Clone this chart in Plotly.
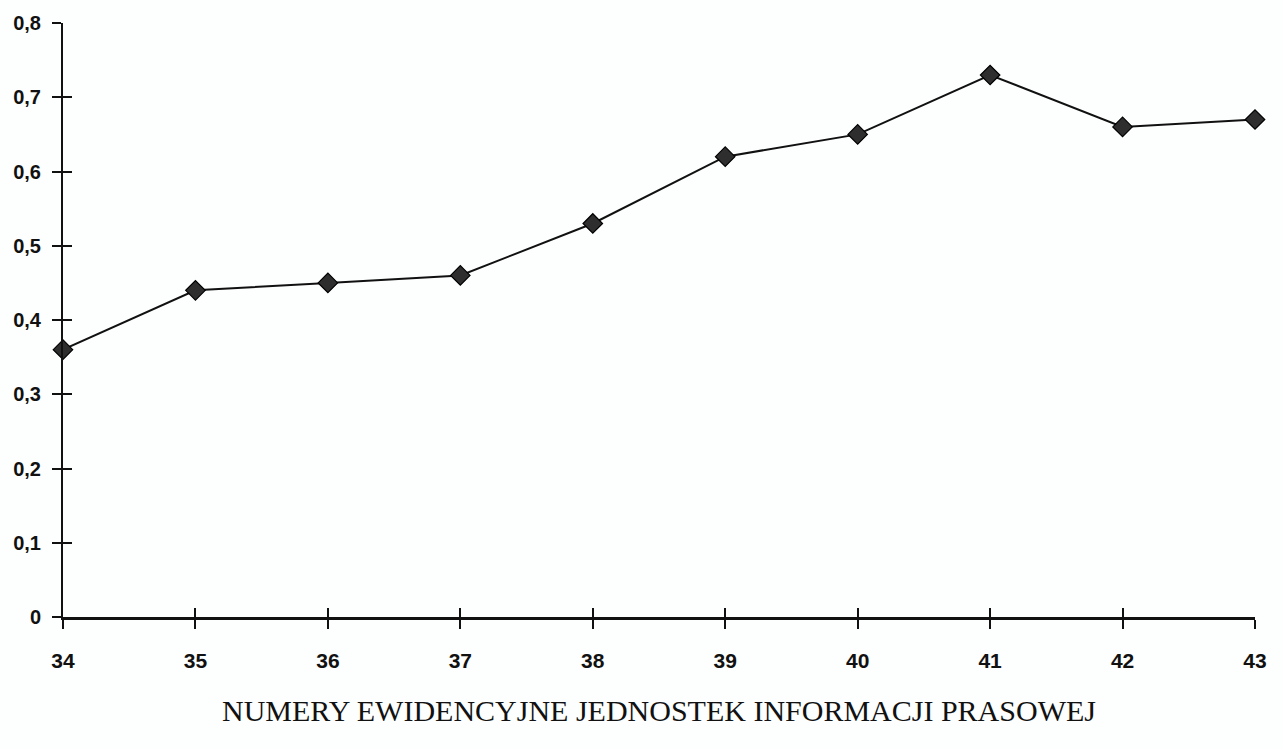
import plotly.graph_objects as go

# Evidence numbers of press information units and their indicator values
unit_numbers = [34, 35, 36, 37, 38, 39, 40, 41, 42, 43]
indicator = [0.36, 0.44, 0.45, 0.46, 0.53, 0.62, 0.65, 0.73, 0.66, 0.67]

y_tick_vals = [0, 0.1, 0.2, 0.3, 0.4, 0.5, 0.6, 0.7, 0.8]
y_tick_text = ["0", "0,1", "0,2", "0,3", "0,4", "0,5", "0,6", "0,7", "0,8"]
x_tick_text = [str(n) for n in unit_numbers]

axis_title = "NUMERY EWIDENCYJNE JEDNOSTEK INFORMACJI PRASOWEJ"

fig = go.Figure()
fig.add_trace(go.Scatter(
    x=unit_numbers, y=indicator, mode="lines+markers",
    line=dict(color="#111111", width=2),
    marker=dict(symbol="diamond", size=15, color="#2e2e2e",
                line=dict(color="#000000", width=1.2)),
    cliponaxis=False, showlegend=False,
))
# invisible trace on the mirror axes so their inside ticks are drawn
fig.add_trace(go.Scatter(x=unit_numbers, y=indicator, xaxis="x2", yaxis="y2",
                         mode="none", showlegend=False, hoverinfo="skip"))

sans = "Liberation Sans, Arial"
ink = "#111111"

fig.update_layout(
    width=1283, height=749,
    margin=dict(l=63, r=28, t=20, b=132),
    paper_bgcolor="#fdfefe", plot_bgcolor="rgba(0,0,0,0)",
    xaxis=dict(range=[34, 43], tickvals=unit_numbers, ticktext=x_tick_text,
               ticks="outside", ticklen=9, tickwidth=2, tickcolor=ink,
               showline=True, linewidth=2.5, linecolor=ink,
               showgrid=False, zeroline=False,
               tickfont=dict(family=sans, size=21, color=ink, weight="bold"),
               ticklabelstandoff=14,
               title=dict(text=axis_title, standoff=30,
                          font=dict(family="Liberation Serif, Times New Roman",
                                    size=30, color=ink))),
    yaxis=dict(range=[0, 0.8], tickvals=y_tick_vals, ticktext=y_tick_text,
               ticks="outside", ticklen=9, tickwidth=2, tickcolor=ink,
               showline=True, linewidth=2, linecolor=ink,
               showgrid=False, zeroline=False,
               tickfont=dict(family=sans, size=20, color=ink, weight="bold"),
               ticklabelstandoff=7),
    xaxis2=dict(range=[34, 43], overlaying="x", anchor="y2", side="bottom",
                tickvals=unit_numbers, showticklabels=False,
                ticks="inside", ticklen=9, tickwidth=2, tickcolor=ink,
                showline=False, showgrid=False, zeroline=False),
    yaxis2=dict(range=[0, 0.8], overlaying="y", anchor="x2", side="left",
                tickvals=y_tick_vals, showticklabels=False,
                ticks="inside", ticklen=9, tickwidth=2, tickcolor=ink,
                showline=False, showgrid=False, zeroline=False),
)

fig.write_html("out.html")
